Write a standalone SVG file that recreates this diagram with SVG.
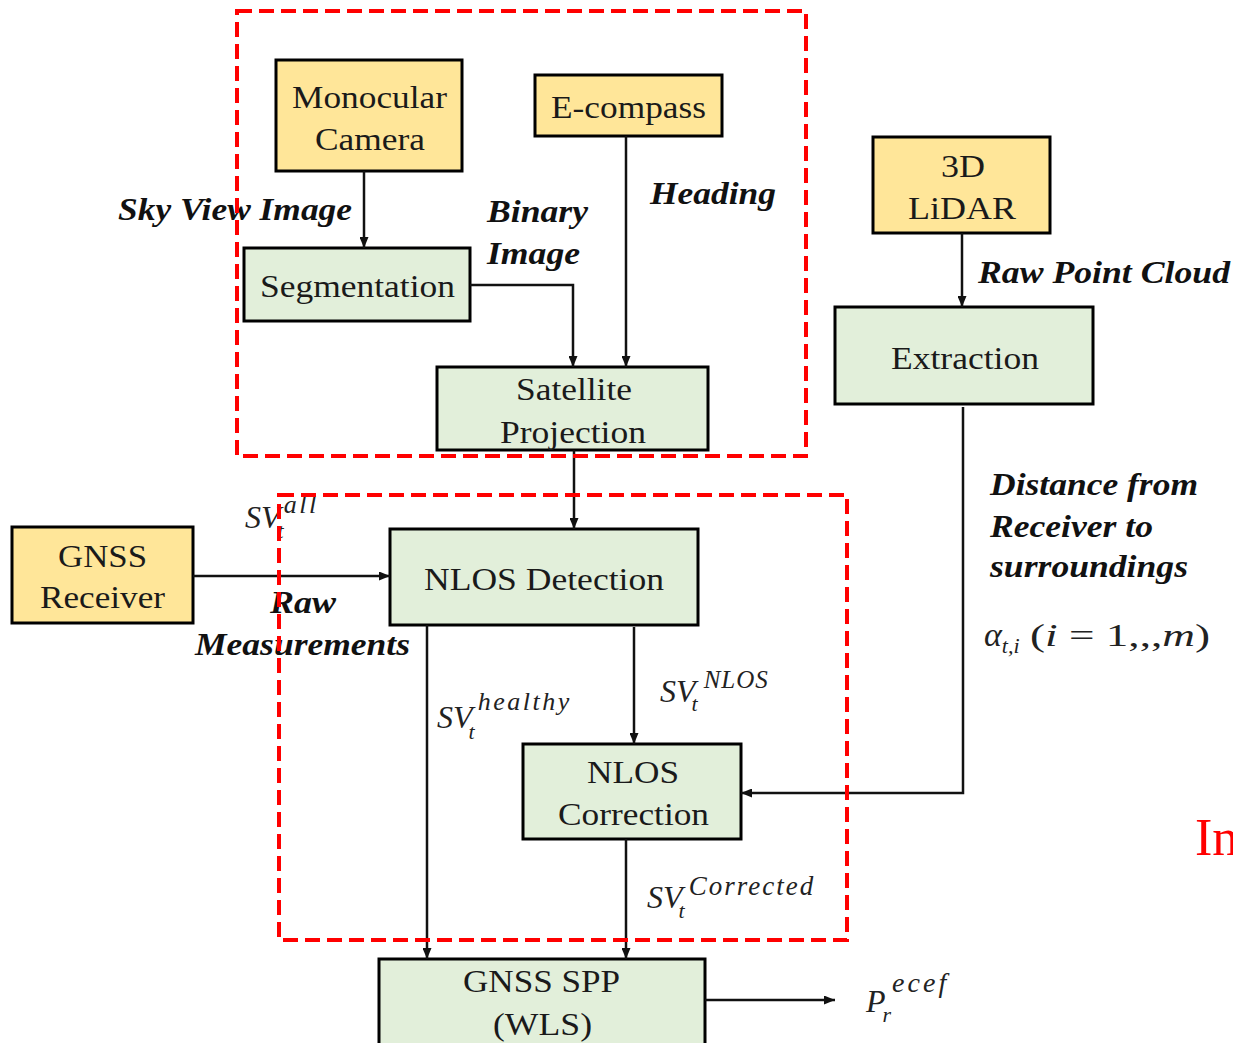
<svg xmlns="http://www.w3.org/2000/svg" width="1233" height="1043" viewBox="0 0 1233 1043">
<style>
.y{fill:#FFE699;stroke:#000;stroke-width:3}
.g{fill:#E2EFDA;stroke:#000;stroke-width:3}
.t{font-family:"Liberation Serif",serif;font-size:32px;fill:#1a1a1a}
.l{font-family:"Liberation Serif",serif;font-size:31px;font-weight:bold;font-style:italic;fill:#111}
.m{font-family:"Liberation Serif",serif;font-style:italic;fill:#222}
.c{fill:none;stroke:#111;stroke-width:2.5}
.d{fill:none;stroke:#FF0000;stroke-width:4;stroke-dasharray:15 7}
</style>
<defs>
<marker id="ah" markerUnits="userSpaceOnUse" markerWidth="11" markerHeight="9" refX="11" refY="4.5" orient="auto">
<path d="M0,0 L11,4.5 L0,9 z" fill="#111"/>
</marker>
</defs>
<rect width="1233" height="1043" fill="#fff"/>

<g id="monocular-camera">
<rect class="y" x="276" y="60" width="186" height="111"/>
<text class="t" x="292" y="108" textLength="155" lengthAdjust="spacingAndGlyphs">Monocular</text>
<text class="t" x="315" y="150" textLength="110" lengthAdjust="spacingAndGlyphs">Camera</text>
</g>
<g id="e-compass">
<rect class="y" x="535" y="75" width="187" height="61"/>
<text class="t" x="551" y="118" textLength="155" lengthAdjust="spacingAndGlyphs">E-compass</text>
</g>
<g id="segmentation">
<rect class="g" x="244" y="248" width="226" height="73"/>
<text class="t" x="260" y="297" textLength="195" lengthAdjust="spacingAndGlyphs">Segmentation</text>
</g>
<g id="satellite-projection">
<rect class="g" x="437" y="367" width="271" height="83"/>
<text class="t" x="516" y="400" textLength="116" lengthAdjust="spacingAndGlyphs">Satellite</text>
<text class="t" x="500" y="443" textLength="146" lengthAdjust="spacingAndGlyphs">Projection</text>
</g>
<g id="lidar">
<rect class="y" x="873" y="137" width="177" height="96"/>
<text class="t" x="941" y="177" textLength="44" lengthAdjust="spacingAndGlyphs">3D</text>
<text class="t" x="908" y="219" textLength="108" lengthAdjust="spacingAndGlyphs">LiDAR</text>
</g>
<g id="extraction">
<rect class="g" x="835" y="307" width="258" height="97"/>
<text class="t" x="891" y="369" textLength="148" lengthAdjust="spacingAndGlyphs">Extraction</text>
</g>
<g id="gnss-receiver">
<rect class="y" x="12" y="527" width="181" height="96"/>
<text class="t" x="58" y="567" textLength="89" lengthAdjust="spacingAndGlyphs">GNSS</text>
<text class="t" x="40" y="608" textLength="125" lengthAdjust="spacingAndGlyphs">Receiver</text>
</g>
<g id="nlos-detection">
<rect class="g" x="390" y="529" width="308" height="96"/>
<text class="t" x="424" y="590" textLength="240" lengthAdjust="spacingAndGlyphs">NLOS Detection</text>
</g>
<g id="nlos-correction">
<rect class="g" x="523" y="744" width="218" height="95"/>
<text class="t" x="587" y="783" textLength="92" lengthAdjust="spacingAndGlyphs">NLOS</text>
<text class="t" x="558" y="825" textLength="151" lengthAdjust="spacingAndGlyphs">Correction</text>
</g>
<g id="gnss-spp">
<rect class="g" x="379" y="959" width="326" height="90"/>
<text class="t" x="463" y="992" textLength="157" lengthAdjust="spacingAndGlyphs">GNSS SPP</text>
<text class="t" x="493" y="1035" textLength="99" lengthAdjust="spacingAndGlyphs">(WLS)</text>
</g>

<g id="connectors">
<path class="c" d="M364,171 V248" marker-end="url(#ah)"/>
<path class="c" d="M470,285 H573 V367" marker-end="url(#ah)"/>
<path class="c" d="M626,136 V367" marker-end="url(#ah)"/>
<path class="c" d="M962,233 V307" marker-end="url(#ah)"/>
<path class="c" d="M574,450 V529" marker-end="url(#ah)"/>
<path class="c" d="M193,576 H390" marker-end="url(#ah)"/>
<path class="c" d="M427,625 V959" marker-end="url(#ah)"/>
<path class="c" d="M634,627 V744" marker-end="url(#ah)"/>
<path class="c" d="M626,839 V959" marker-end="url(#ah)"/>
<path class="c" d="M963,407 V793 H741" marker-end="url(#ah)"/>
<path class="c" d="M705,1000 H835" marker-end="url(#ah)"/>
</g>

<g id="labels">
<text class="l" x="118" y="220" textLength="234" lengthAdjust="spacingAndGlyphs">Sky View Image</text>
<text class="l" x="487" y="222" textLength="101" lengthAdjust="spacingAndGlyphs">Binary</text>
<text class="l" x="487" y="264" textLength="93" lengthAdjust="spacingAndGlyphs">Image</text>
<text class="l" x="650" y="204" textLength="126" lengthAdjust="spacingAndGlyphs">Heading</text>
<text class="l" x="978" y="283" textLength="252" lengthAdjust="spacingAndGlyphs">Raw Point Cloud</text>
<text class="l" x="990" y="495" textLength="208" lengthAdjust="spacingAndGlyphs">Distance from</text>
<text class="l" x="990" y="537" textLength="163" lengthAdjust="spacingAndGlyphs">Receiver to</text>
<text class="l" x="990" y="577" textLength="198" lengthAdjust="spacingAndGlyphs">surroundings</text>
<text class="l" x="270" y="613" textLength="66" lengthAdjust="spacingAndGlyphs">Raw</text>
<text class="l" x="195" y="655" textLength="215" lengthAdjust="spacingAndGlyphs">Measurements</text>

<text class="m" x="984" y="646" font-size="34">α<tspan dy="7" font-size="22">t,i</tspan></text>
<text x="1030" y="646" font-family="'Liberation Serif',serif" font-size="32" fill="#222" textLength="180" lengthAdjust="spacingAndGlyphs">(<tspan font-style="italic">i</tspan> = 1,,,<tspan font-style="italic">m</tspan>)</text>

<text class="m" x="245" y="528" font-size="32">SV<tspan dx="-3" dy="10" font-size="22">t</tspan><tspan dx="0" dy="-25" font-size="26" letter-spacing="2.5">all</tspan></text>

<text class="m" x="437" y="728" font-size="32">SV<tspan dx="-4" dy="11" font-size="22">t</tspan><tspan dx="3" dy="-29" font-size="26" letter-spacing="2.5">healthy</tspan></text>

<text class="m" x="660" y="702" font-size="32">SV<tspan dx="-4" dy="9" font-size="22">t</tspan><tspan dx="6" dy="-23" font-size="25" letter-spacing="1">NLOS</tspan></text>

<text class="m" x="647" y="908" font-size="32">SV<tspan dx="-4" dy="10" font-size="22">t</tspan><tspan dx="4" dy="-23" font-size="27" letter-spacing="2">Corrected</tspan></text>

<text class="m" x="866" y="1012" font-size="32">P<tspan dx="-3" dy="10" font-size="22">r</tspan><tspan dx="1" dy="-30" font-size="28" letter-spacing="3">ecef</tspan></text>

<text x="1195" y="855" font-family="'Liberation Serif',serif" font-size="52" fill="#FF0000">In</text>
</g>

<g id="groups">
<rect class="d" x="237" y="11" width="569" height="445"/>
<rect class="d" x="279" y="495" width="568" height="445"/>
</g>
</svg>
